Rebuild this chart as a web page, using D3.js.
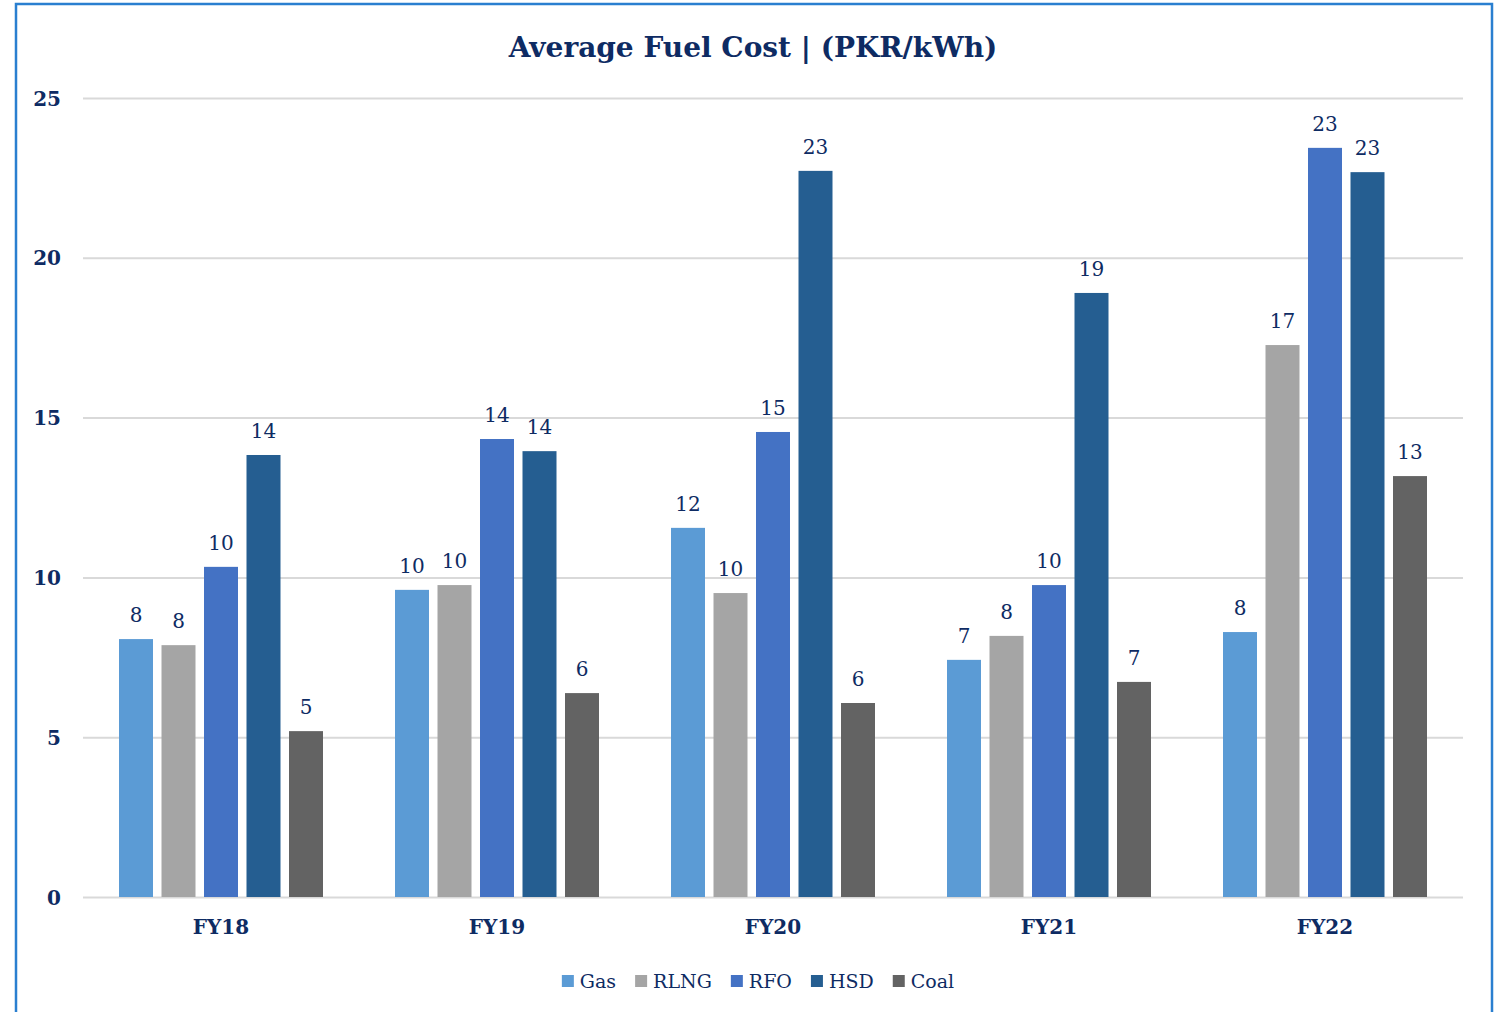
<!DOCTYPE html>
<html><head><meta charset="utf-8">
<script src="https://cdn.jsdelivr.net/npm/d3@7"></script>
<style>html,body{margin:0;padding:0;background:#fff;overflow:hidden}svg{display:block}</style>
</head><body>
<svg id="chart" width="1496" height="1012"></svg>
<script>
const categories = ["FY18", "FY19", "FY20", "FY21", "FY22"];
const seriesNames = ["Gas", "RLNG", "RFO", "HSD", "Coal"];
const gasValues  = [8.07, 9.61, 11.55, 7.42, 8.29];
const rlngValues = [7.88, 9.76, 9.51, 8.17, 17.27];
const rfoValues  = [10.33, 14.33, 14.55, 9.76, 23.44];
const hsdValues  = [13.83, 13.95, 22.72, 18.90, 22.68];
const coalValues = [5.19, 6.38, 6.07, 6.73, 13.17];
const yTicks = [0, 5, 10, 15, 20, 25];
const titleText = "Average Fuel Cost | (PKR/kWh)";

const colors = ["#5b9bd5", "#a5a5a5", "#4472c4", "#255e91", "#636363"];
const seriesValues = [gasValues, rlngValues, rfoValues, hsdValues, coalValues];
const textColor = "#0e2b63";
const font = "'DejaVu Serif', 'Liberation Serif', serif";

const svg = d3.select("#chart");
svg.append("rect").attr("x", 16).attr("y", 4).attr("width", 1476).attr("height", 1030)
  .attr("fill", "none").attr("stroke", "#2a7fd0").attr("stroke-width", 2.5);

const plotL = 83, plotR = 1463, plotT = 98, plotB = 897;
const x0 = d3.scaleBand().domain(categories).range([plotL, plotR]).padding(0);
const x1 = d3.scaleBand().domain(seriesNames).range([0, x0.bandwidth()])
  .paddingInner(0.2).paddingOuter(0.847);
const y = d3.scaleLinear().domain([0, 25]).range([plotB, plotT]);

svg.append("text").attr("x", 753).attr("y", 57).attr("text-anchor", "middle")
  .attr("font-family", font).attr("font-weight", "bold").attr("font-size", 28)
  .attr("fill", textColor).text(titleText);

// grid
const yAxis = d3.axisLeft(y).tickValues(yTicks).tickSize(-(plotR - plotL)).tickPadding(22);
const gy = svg.append("g").attr("transform", `translate(${plotL},0)`).call(yAxis);
gy.select(".domain").remove();
gy.selectAll(".tick line").attr("stroke", "#d9d9d9").attr("stroke-width", 2);
gy.selectAll(".tick text").attr("font-family", font).attr("font-weight", "bold")
  .attr("font-size", 20).attr("fill", textColor).attr("dy", "0.35em");

// bars
const groups = svg.append("g").selectAll("g").data(categories).join("g")
  .attr("transform", d => `translate(${x0(d)},0)`);
groups.each(function(cat, ci) {
  const g = d3.select(this);
  const rows = seriesNames.map((s, si) => ({s, si, v: seriesValues[si][ci]}));
  g.selectAll("rect").data(rows).join("rect")
    .attr("x", d => x1(d.s)).attr("width", x1.bandwidth())
    .attr("y", d => y(d.v)).attr("height", d => y(0) - y(d.v))
    .attr("fill", d => colors[d.si]);
  g.selectAll("text").data(rows).join("text")
    .attr("x", d => x1(d.s) + x1.bandwidth() / 2).attr("y", d => y(d.v) - 17)
    .attr("text-anchor", "middle").attr("font-family", font).attr("font-size", 20)
    .attr("fill", textColor).text(d => Math.round(d.v));
});

// x axis
const xAxis = d3.axisBottom(x0).tickSize(0).tickPadding(23);
const gx = svg.append("g").attr("transform", `translate(0,${plotB})`).call(xAxis);
gx.select(".domain").remove();
gx.selectAll(".tick text").attr("font-family", font).attr("font-weight", "bold")
  .attr("font-size", 20).attr("fill", textColor);

// legend
const leg = svg.append("g");
let lx = 0;
seriesNames.forEach((s, i) => {
  const item = leg.append("g").attr("transform", `translate(${lx},0)`);
  item.append("rect").attr("x", 0).attr("y", -13).attr("width", 12).attr("height", 12).attr("fill", colors[i]);
  const t = item.append("text").attr("x", 18).attr("y", 0).attr("font-family", font)
    .attr("font-size", 19).attr("fill", textColor).text(s);
  lx += 18 + t.node().getComputedTextLength() + 19;
});
const legW = lx - 19;
leg.attr("transform", `translate(${758 - legW / 2},988)`);
</script>
</body></html>
